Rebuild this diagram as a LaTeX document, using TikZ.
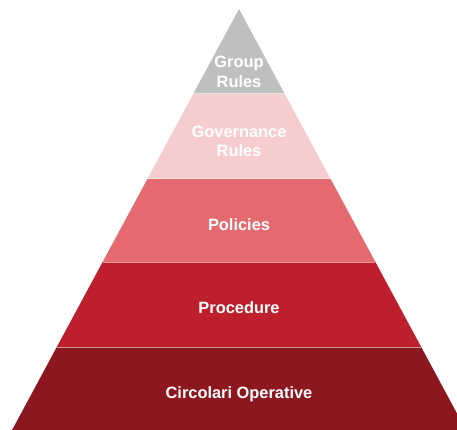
\documentclass[tikz,border=0pt]{standalone}
\usepackage{fontspec}
\setmainfont{Liberation Sans}
\definecolor{lvlA}{HTML}{BFBFBF}
\definecolor{lvlB}{HTML}{F5CDCF}
\definecolor{lvlC}{HTML}{E46A70}
\definecolor{lvlD}{HTML}{BE1F2C}
\definecolor{lvlE}{HTML}{8D171F}
\begin{document}
\begin{tikzpicture}[x=1pt,y=-1pt,
  lbl/.style={text=white,font=\bfseries\fontsize{16.4}{19.5}\selectfont,align=center,inner sep=0pt},
  sep/.style={draw=white,draw opacity=0.55,line width=1pt}]
\useasboundingbox (0,0) rectangle (457,430);
\clip (0,0) rectangle (457,430);
% layers (apex (239,9), half width 0.539*(y-9))
\fill[lvlA] (239,9) -- (284.8,94) -- (193.2,94) -- cycle;
\fill[lvlB] (193.2,94) -- (284.8,94) -- (330.6,179) -- (147.4,179) -- cycle;
\fill[lvlC] (147.4,179) -- (330.6,179) -- (375.4,262) -- (102.6,262) -- cycle;
\fill[lvlD] (102.6,262) -- (375.4,262) -- (421.2,347) -- (56.8,347) -- cycle;
\fill[lvlE] (56.8,347) -- (421.2,347) -- (467.0,432) -- (11.0,432) -- cycle;
% separators
\draw[sep] (193.2,94) -- (284.8,94);
\draw[sep] (147.4,179) -- (330.6,179);
\draw[sep] (102.6,262) -- (375.4,262);
\draw[sep] (56.8,347) -- (421.2,347);
% labels
\node[lbl] (group) at (239,72) {Group\\Rules};
\node[lbl] (gov) at (239,141.3) {Governance\\Rules};
\node[lbl,anchor=base] (pol) at (239,230) {Policies};
\node[lbl,anchor=base] (proc) at (239,313.5) {Procedure};
\node[lbl,anchor=base] (circ) at (239,398) {Circolari Operative};
\end{tikzpicture}
\end{document}
